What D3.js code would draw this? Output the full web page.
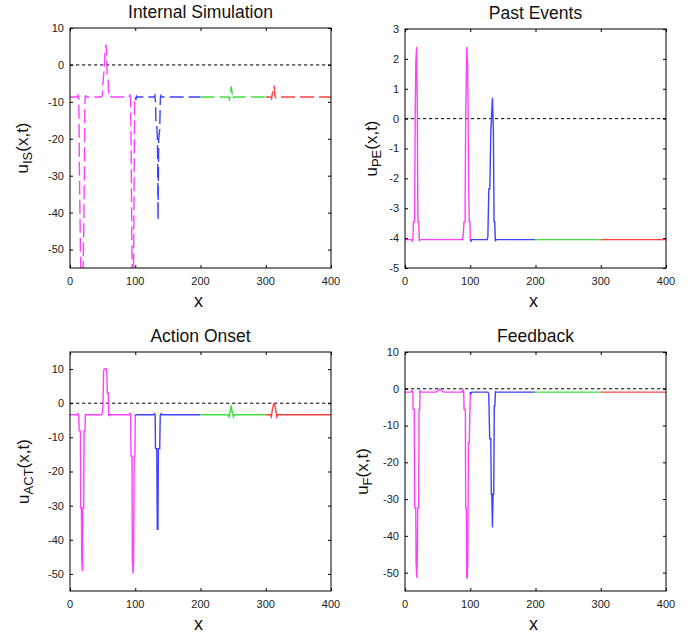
<!DOCTYPE html>
<html>
<head>
<meta charset="utf-8">
<script src="https://cdn.jsdelivr.net/npm/d3@7"></script>
<style>
    body { margin: 0; background: #fff; }
    svg { display: block; font-family: "Liberation Sans", Arial, sans-serif; }
</style>
</head>
<body>
<div id="chart"></div>
<script>
    // x ranges of the four coloured parts of every curve
    var segEdges = [0, 100, 200, 300, 400];
    var segColors = ["#ff40ff", "#4040ff", "#40e040", "#ff4040"];
    var xTicks = [0, 100, 200, 300, 400];

    var ticksIS = [-50, -40, -30, -20, -10, 0, 10];
    var ticksPE = [-5, -4, -3, -2, -1, 0, 1, 2, 3];
    var ticksACT = [-50, -40, -30, -20, -10, 0, 10];
    var ticksF = [-50, -40, -30, -20, -10, 0, 10];

    // [x, u]
    var internalSim = [
        [0, -8.7], [11, -8.7], [12.5, -8.2], [13.5, -8.6], [14.5, -30], [16, -50], [17.5, -62], [19.5, -62],
        [21, -45], [22, -30], [22.8, -10], [23.8, -8.2], [25, -8.7],
        [48, -8.7], [49.5, -8.4], [50.5, -5], [52, -2], [53.5, 3], [55, 5.5], [56, 4], [57, -3.5], [58.5, -4.5], [59.5, -8.7],
        [90, -8.7], [92, -8.2], [93, -9], [94, -30], [95.5, -62], [97, -62], [98, -40], [99, -10], [100, -8.7],
        [101, -9.5], [102, -8.5], [103, -8.7], [129, -8.7], [130, -8.3], [131, -10], [131.8, -16], [133, -16.5],
        [134, -20], [135, -42], [136, -20], [137.5, -17.5], [138.5, -9], [139.5, -8.3], [141, -8.7],
        [200, -8.7], [243, -8.7], [244.5, -9.3], [246, -7], [247, -5.8], [248, -7], [249.5, -9.3], [251, -8.7],
        [300, -8.7], [308, -8.7], [309, -9.1], [310.5, -7.3], [312, -6.2], [313, -5.6], [314, -8.5], [315.5, -8.9],
        [317, -8.7], [400, -8.7]
    ];

    var pastEvents = [
        [0, -4.05], [10, -4.05], [11, -4.1], [12, -4.05], [13, -3.45], [14.8, -3.45], [15.6, 0], [16.6, 1.9],
        [17.8, 2.4], [18.8, 0.5], [19.8, -3.45], [21, -3.45], [22, -4.1], [23, -4.05],
        [88, -4.05], [89, -3.95], [90.5, -3.45], [92, -3.45], [93, 0], [94.6, 2.4], [96, 1.85], [97.5, -2.25],
        [98.5, -3.45], [99.5, -3.45], [100, -4.05], [101, -4.1], [102, -4.05],
        [126, -4.05], [127, -3.95], [128.5, -2.35], [130, -2.35], [131.5, -0.45], [134, 0.7], [135.5, -0.45],
        [136.5, -3.45], [137.5, -3.45], [138.5, -4.1], [139.5, -4.05], [200, -4.05], [300, -4.05], [400, -4.05]
    ];

    var actionOnset = [
        [0, -3.4], [11, -3.4], [12.5, -3.1], [13.5, -3.6], [14, -8.1], [16, -8.1], [16.5, -30.7], [17.5, -30.7],
        [18, -45.5], [19, -49.2], [19.5, -30.7], [21, -30.7], [21.5, -8.1], [23, -8.1], [23.5, -3.4],
        [48, -3.4], [49.5, -2.8], [50.5, -1.2], [51.5, 9.5], [52.5, 10], [55.5, 10], [56.5, 9], [57.2, 3], [58.5, 3],
        [59.3, -3.5], [60.5, -3.7], [62, -3.4],
        [90, -3.4], [92, -3], [93, -3.6], [93.5, -15.5], [95, -15.5], [95.5, -45.9], [96.8, -49.9], [97.5, -45.9],
        [98.3, -15.5], [99.5, -15.5], [100, -3.4],
        [128, -3.4], [129.5, -3.1], [130.5, -3.6], [131, -13.3], [133, -13.3], [133.8, -36.9], [134.8, -36.9],
        [135.5, -13.3], [137.5, -13.3], [138.3, -3.6], [139.5, -3.1], [141, -3.4],
        [200, -3.4], [242, -3.4], [243.5, -4], [245.5, -2.5], [247, -0.6], [248.5, -2.5], [250.5, -4], [252, -3.4],
        [300, -3.4], [307, -3.4], [308.5, -4], [310.5, -1.5], [312, -0.2], [313.5, -0.2], [315, -1.5], [317, -4],
        [318.5, -3.4], [400, -3.4]
    ];

    var feedback = [
        [0, -0.9], [9, -0.9], [10.5, -0.5], [12, -0.9], [12.4, -5.6], [14.2, -5.6], [14.8, -32.4], [16.5, -32.4],
        [17, -47.2], [18, -51.4], [18.8, -47.2], [19.5, -32.4], [21, -32.4], [21.5, -5.6], [22.5, -5.6], [23, -0.6],
        [24.5, -0.9],
        [48, -0.9], [51, -0.4], [53.5, -0.1], [56, -0.4], [59, -0.9],
        [88, -0.9], [89, -0.3], [90, -0.8], [90.5, -5.6], [92.5, -5.6], [93, -32.4], [94, -32.4], [94.6, -51.4],
        [95.5, -51.4], [96.2, -47.2], [97.2, -14.6], [98.5, -14.6], [99.5, -5.6], [100, -0.9],
        [101, -1.4], [102.5, -0.9], [127, -0.9], [128.4, -1.5], [129.8, -13.6], [131.5, -13.6], [132.3, -28.6],
        [133, -28.6], [134, -37.7], [135, -28.6], [136, -28.6], [136.8, -4.7], [137.8, -4.7], [138.5, -0.8], [140, -0.9],
        [200, -0.9], [300, -0.9], [400, -0.9]
    ];

    var panels = [
        {title: "Internal Simulation", sub: "IS", data: internalSim, yDomain: [-55, 10], yTicks: ticksIS,
            dashed: true, left: 70, top: 28, right: 331, bottom: 268, labelX: 28},
        {title: "Past Events", sub: "PE", data: pastEvents, yDomain: [-5, 3], yTicks: ticksPE,
            dashed: false, left: 405, top: 29, right: 666, bottom: 268, labelX: 377},
        {title: "Action Onset", sub: "ACT", data: actionOnset, yDomain: [-55, 15], yTicks: ticksACT,
            dashed: false, left: 70, top: 352, right: 331, bottom: 591, labelX: 29},
        {title: "Feedback", sub: "F", data: feedback, yDomain: [-55, 10], yTicks: ticksF,
            dashed: false, left: 405, top: 352, right: 666, bottom: 591, labelX: 368}
    ];

    var svg = d3.select("#chart")
        .append("svg")
        .attr("width", 699)
        .attr("height", 637);

    panels.forEach(function(p, pi) {
        var x = d3.scaleLinear().domain([0, 400]).range([p.left, p.right]);
        var y = d3.scaleLinear().domain(p.yDomain).range([p.bottom, p.top]);
        var g = svg.append("g");

        g.append("clipPath")
            .attr("id", "clip" + pi)
            .append("rect")
            .attr("x", p.left)
            .attr("y", p.top)
            .attr("width", p.right - p.left)
            .attr("height", p.bottom - p.top);

        // zero line
        g.append("line")
            .attr("x1", p.left).attr("x2", p.right)
            .attr("y1", y(0)).attr("y2", y(0))
            .attr("stroke", "#000")
            .attr("stroke-width", 1)
            .attr("stroke-dasharray", "3.3,2.7");

        var line = d3.line()
            .x(function(d) { return x(d[0]); })
            .y(function(d) { return y(d[1]); });

        for (var i = 0; i < segColors.length; i++) {
            var seg = p.data.filter(function(d) {
                return d[0] >= segEdges[i] && d[0] <= segEdges[i + 1];
            });
            g.append("path")
                .datum(seg)
                .attr("clip-path", "url(#clip" + pi + ")")
                .attr("d", line)
                .attr("fill", "none")
                .attr("stroke", segColors[i])
                .attr("stroke-width", 1.4)
                .attr("stroke-dasharray", p.dashed ? "14,5" : null);
        }

        // axes, ticks pointing inwards on all four sides
        g.append("g")
            .attr("transform", "translate(0," + p.bottom + ")")
            .call(d3.axisTop(x).tickValues(xTicks).tickSize(3).tickFormat(""));
        g.append("g")
            .attr("transform", "translate(0," + p.top + ")")
            .call(d3.axisBottom(x).tickValues(xTicks).tickSize(3).tickFormat(""));
        g.append("g")
            .attr("transform", "translate(" + p.left + ",0)")
            .call(d3.axisRight(y).tickValues(p.yTicks).tickSize(3).tickFormat(""));
        g.append("g")
            .attr("transform", "translate(" + p.right + ",0)")
            .call(d3.axisLeft(y).tickValues(p.yTicks).tickSize(3).tickFormat(""));
        g.selectAll(".domain").remove();

        g.append("rect")
            .attr("x", p.left)
            .attr("y", p.top)
            .attr("width", p.right - p.left)
            .attr("height", p.bottom - p.top)
            .attr("fill", "none")
            .attr("stroke", "#000")
            .attr("stroke-width", 1);

        g.selectAll(".xlab")
            .data(xTicks)
            .enter()
            .append("text")
            .attr("x", function(d) { return x(d); })
            .attr("y", p.bottom + 16.5)
            .attr("text-anchor", "middle")
            .attr("font-size", 11)
            .attr("fill", "#222")
            .text(function(d) { return d; });

        g.selectAll(".ylab")
            .data(p.yTicks)
            .enter()
            .append("text")
            .attr("x", p.left - 6)
            .attr("y", function(d) { return y(d); })
            .attr("dy", "0.36em")
            .attr("text-anchor", "end")
            .attr("font-size", 11)
            .attr("fill", "#222")
            .text(function(d) { return d; });

        g.append("text")
            .attr("x", (p.left + p.right) / 2)
            .attr("y", p.top - 10)
            .attr("text-anchor", "middle")
            .attr("font-size", 17.5)
            .attr("fill", "#111")
            .text(p.title);

        g.append("text")
            .attr("x", (p.left + p.right) / 2 - 2)
            .attr("y", p.bottom + 39)
            .attr("text-anchor", "middle")
            .attr("font-size", 18)
            .attr("fill", "#111")
            .text("x");

        var yl = g.append("text")
            .attr("transform", "translate(" + p.labelX + "," + (p.top + p.bottom) / 2 + ") rotate(-90)")
            .attr("text-anchor", "middle")
            .attr("font-size", 17)
            .attr("fill", "#111");
        yl.append("tspan").text("u");
        yl.append("tspan").attr("dy", 4).attr("font-size", 13).text(p.sub);
        yl.append("tspan").attr("dy", -4).text("(x,t)");
    });
</script>
</body>
</html>
